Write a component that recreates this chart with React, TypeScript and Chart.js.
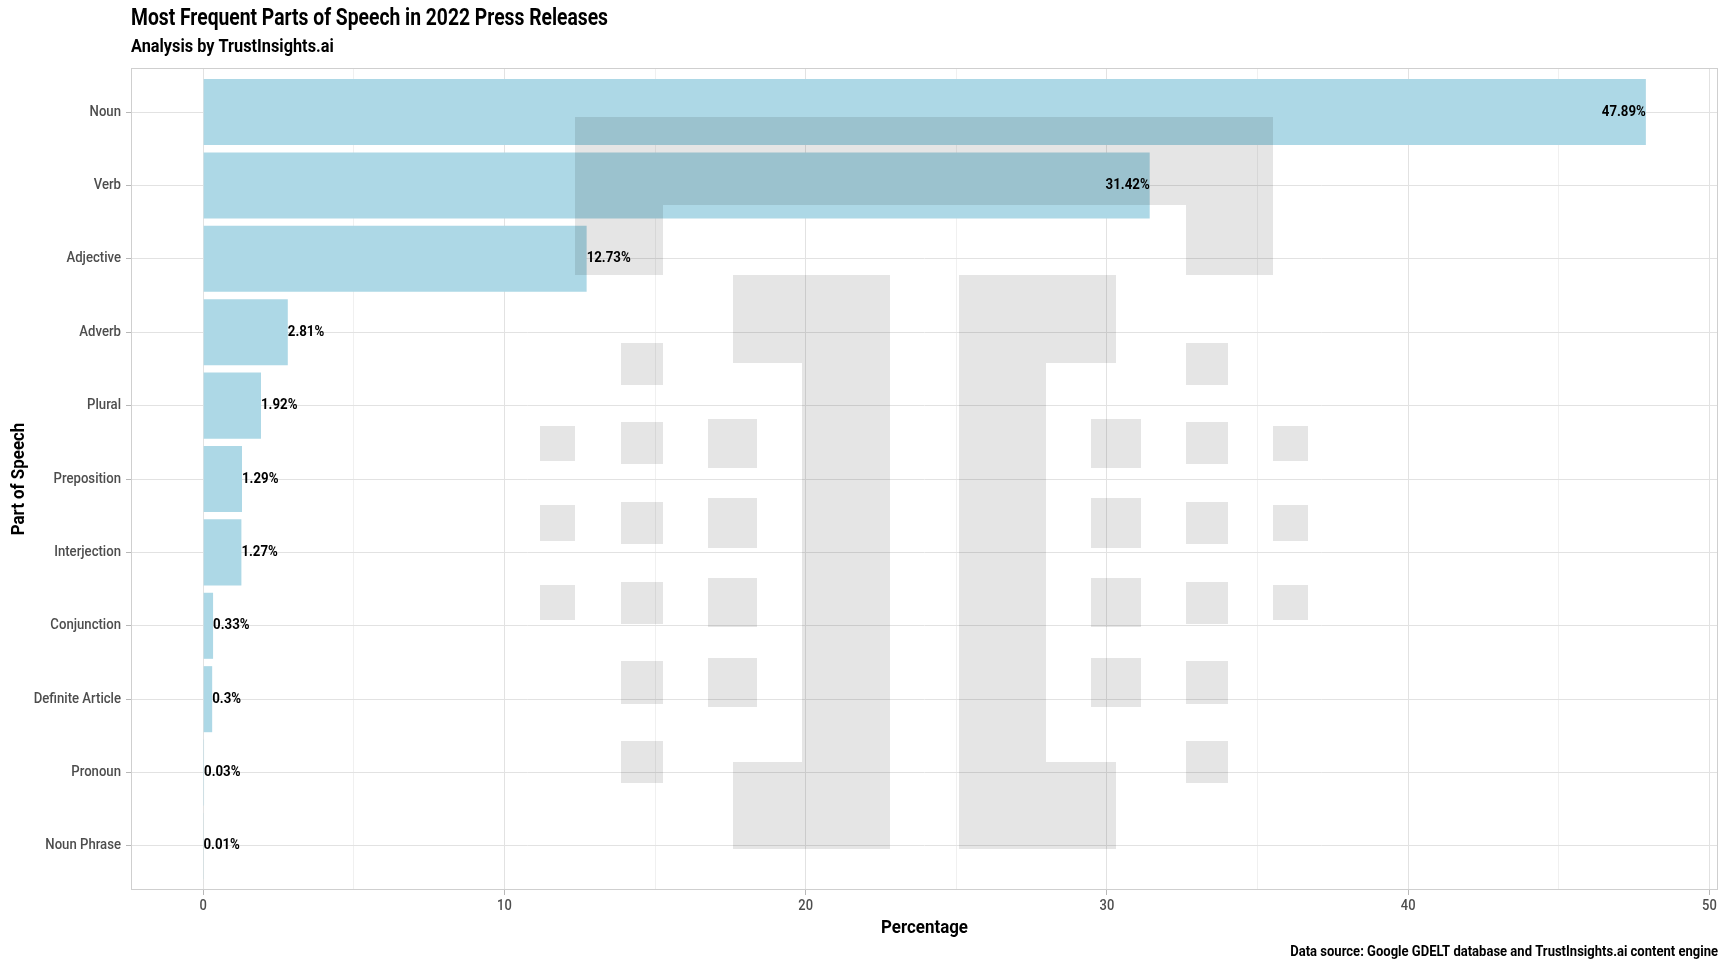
import React, { useEffect, useRef } from 'react';
import { Chart, registerables } from 'chart.js';

Chart.register(...registerables);

// ---------- data ----------
const categories = [
  'Noun',
  'Verb',
  'Adjective',
  'Adverb',
  'Plural',
  'Preposition',
  'Interjection',
  'Conjunction',
  'Definite Article',
  'Pronoun',
  'Noun Phrase',
];
const percentages = [47.89, 31.42, 12.73, 2.81, 1.92, 1.29, 1.27, 0.33, 0.3, 0.03, 0.01];
const xMajorTicks = [0, 10, 20, 30, 40, 50];
const xMinorTicks = [5, 15, 25, 35, 45];

const TITLE = 'Most Frequent Parts of Speech in 2022 Press Releases';
const SUBTITLE = 'Analysis by TrustInsights.ai';
const X_TITLE = 'Percentage';
const Y_TITLE = 'Part of Speech';
const CAPTION = 'Data source: Google GDELT database and TrustInsights.ai content engine';

// ---------- styling ----------
const FONT = "Roboto, 'Noto Sans', sans-serif";
const BAR_COLOR = '#ADD8E6';
const GRID_MAJOR = '#E2E2E2';
const GRID_MINOR = '#F0F0F0';
const TICK_COLOR = '#B8B8B8';
const TICK_LABEL = '#4D4D4D';
const TITLE_TARGET_WIDTH = 477; // used to emulate the condensed typeface

// decorative logo watermark (pixel rectangles: x0, y0, x1, y1)
const LOGO_RECTS: number[][] = [
  [575, 117, 1273, 205],
  [575, 205, 663, 275],
  [1186, 205, 1273, 275],
  [733, 275, 890, 363],
  [802, 363, 890, 762],
  [733, 762, 890, 849],
  [959, 275, 1116, 363],
  [959, 363, 1046, 762],
  [959, 762, 1116, 849],
];
const DOT_COLS: { x: number[]; ys: number[][] }[] = [
  { x: [540, 575], ys: [[426, 461], [505, 541], [585, 620]] },
  { x: [621, 663], ys: [[343, 385], [422, 464], [502, 544], [582, 624], [661, 704], [741, 783]] },
  { x: [708, 757], ys: [[419, 468], [498, 548], [578, 627], [658, 707]] },
  { x: [1091, 1141], ys: [[419, 468], [498, 548], [578, 627], [658, 707]] },
  { x: [1186, 1228], ys: [[343, 385], [422, 464], [502, 544], [582, 624], [661, 704], [741, 783]] },
  { x: [1273, 1308], ys: [[426, 461], [505, 541], [585, 620]] },
];

let COND = 0.85;

function drawText(
  ctx: CanvasRenderingContext2D,
  text: string,
  x: number,
  y: number,
  font: string,
  align: 'left' | 'right' | 'center',
  color: string,
  stretch = 1
) {
  ctx.save();
  ctx.font = font;
  ctx.fillStyle = color;
  ctx.textBaseline = 'middle';
  ctx.textAlign = 'left';
  const k = COND * stretch;
  const w = ctx.measureText(text).width * k;
  const x0 = align === 'left' ? x : align === 'right' ? x - w : x - w / 2;
  ctx.translate(x0, y);
  ctx.scale(k, 1);
  ctx.fillText(text, 0, 0);
  ctx.restore();
}

const decorPlugin = {
  id: 'decor',
  beforeDraw(chart: any) {
    const ctx = chart.ctx as CanvasRenderingContext2D;
    ctx.save();
    ctx.fillStyle = '#FFFFFF';
    ctx.fillRect(0, 0, chart.width, chart.height);
    ctx.font = `bold 23px ${FONT}`;
    const tw = ctx.measureText(TITLE).width;
    if (tw > 0) COND = Math.min(1, TITLE_TARGET_WIDTH / tw);
    ctx.restore();
  },
  afterDatasetsDraw(chart: any) {
    const ctx = chart.ctx as CanvasRenderingContext2D;
    const area = chart.chartArea;
    ctx.save();
    // watermark
    ctx.fillStyle = 'rgba(0,0,0,0.1)';
    LOGO_RECTS.forEach(([x0, y0, x1, y1]) => ctx.fillRect(x0, y0, x1 - x0, y1 - y0));
    DOT_COLS.forEach((c) =>
      c.ys.forEach(([y0, y1]) => ctx.fillRect(c.x[0], y0, c.x[1] - c.x[0], y1 - y0))
    );
    ctx.restore();
    // value labels
    const meta = chart.getDatasetMeta(0);
    meta.data.forEach((el: any, i: number) => {
      const v = percentages[i];
      drawText(ctx, `${v}%`, el.x, el.y, `bold 14px ${FONT}`, v > 20 ? 'right' : 'left', '#000000', 1.13);
    });
    // panel border
    ctx.save();
    ctx.strokeStyle = '#CFCFCF';
    ctx.lineWidth = 1;
    ctx.strokeRect(area.left + 0.5, area.top + 0.5, area.right - area.left - 1, area.bottom - area.top - 1);
    ctx.restore();
  },
  afterDraw(chart: any) {
    const ctx = chart.ctx as CanvasRenderingContext2D;
    const area = chart.chartArea;
    const xs = chart.scales.x;
    const ys = chart.scales.y;
    // tick labels
    categories.forEach((c, i) => {
      drawText(ctx, c, area.left - 10, ys.getPixelForValue(i), `500 14px ${FONT}`, 'right', TICK_LABEL, 1.12);
    });
    xMajorTicks.forEach((t) => {
      drawText(ctx, String(t), xs.getPixelForValue(t), area.bottom + 16, `500 14px ${FONT}`, 'center', TICK_LABEL, 1.1);
    });
    // titles
    drawText(ctx, TITLE, area.left, 19, `bold 23px ${FONT}`, 'left', '#000000');
    drawText(ctx, SUBTITLE, area.left, 47, `bold 18px ${FONT}`, 'left', '#000000', 1.08);
    drawText(ctx, X_TITLE, (area.left + area.right) / 2, 928, `bold 18px ${FONT}`, 'center', '#000000', 1.12);
    ctx.save();
    ctx.translate(19, (area.top + area.bottom) / 2);
    ctx.rotate(-Math.PI / 2);
    drawText(ctx, Y_TITLE, 0, 0, `bold 18px ${FONT}`, 'center', '#000000', 1.12);
    ctx.restore();
    drawText(ctx, CAPTION, area.right, 952, `bold 14px ${FONT}`, 'right', '#000000', 1.11);
  },
};

export default function App() {
  const canvasRef = useRef<HTMLCanvasElement | null>(null);

  useEffect(() => {
    if (!canvasRef.current) return;
    const maxVal = Math.max(...percentages);
    const allXTicks = [...xMajorTicks, ...xMinorTicks].sort((a, b) => a - b);
    const chart = new Chart(canvasRef.current, {
      type: 'bar',
      data: {
        datasets: [
          {
            data: percentages.map((v, i) => ({ x: v, y: i })),
            backgroundColor: BAR_COLOR,
            borderWidth: 0,
            barPercentage: 0.9,
            categoryPercentage: 1.0,
          },
        ],
      },
      options: {
        indexAxis: 'y',
        responsive: false,
        animation: false,
        layout: { padding: { top: 68, right: 10, bottom: 0, left: 0 } },
        plugins: {
          legend: { display: false },
          title: { display: false },
          tooltip: { enabled: false },
        },
        scales: {
          x: {
            type: 'linear',
            position: 'bottom',
            offset: false,
            min: -0.05 * maxVal,
            max: 1.05 * maxVal,
            afterBuildTicks: (scale: any) => {
              scale.ticks = allXTicks.map((v) => ({ value: v }));
            },
            afterFit: (scale: any) => {
              scale.height = 82;
            },
            ticks: { display: false, autoSkip: false },
            grid: {
              offset: false,
              color: (c: any) => (xMajorTicks.includes(c.tick?.value) ? GRID_MAJOR : GRID_MINOR),
              tickColor: (c: any) => (xMajorTicks.includes(c.tick?.value) ? TICK_COLOR : 'rgba(0,0,0,0)'),
              tickLength: 5,
              lineWidth: 1,
            },
            border: { display: false },
          },
          y: {
            type: 'linear',
            reverse: true,
            offset: false,
            min: -0.6,
            max: categories.length - 1 + 0.6,
            afterBuildTicks: (scale: any) => {
              scale.ticks = categories.map((_, i) => ({ value: i }));
            },
            afterFit: (scale: any) => {
              scale.width = 131;
            },
            ticks: { display: false, autoSkip: false },
            grid: {
              offset: false,
              color: GRID_MAJOR,
              tickColor: TICK_COLOR,
              tickLength: 5,
              lineWidth: 1,
            },
            border: { display: false },
          },
        },
      } as any,
      plugins: [decorPlugin],
    });
    return () => chart.destroy();
  }, []);

  return (
    <div style={{ position: 'absolute', left: 0, top: 0, width: 1728, height: 972, background: '#fff' }}>
      <canvas ref={canvasRef} width={1728} height={972} style={{ display: 'block' }} />
    </div>
  );
}
